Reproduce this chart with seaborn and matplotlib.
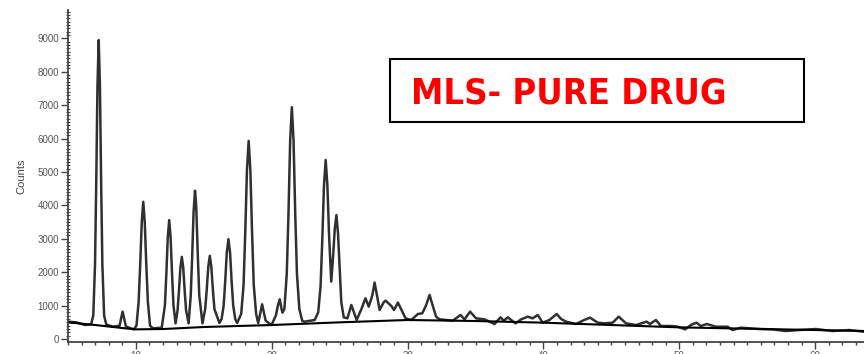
import matplotlib
matplotlib.use("Agg")
import matplotlib.pyplot as plt
from matplotlib.patches import Rectangle
from matplotlib.ticker import MultipleLocator
import seaborn as sns
import pandas as pd

# diffractogram (2-theta, counts)
two_theta = [5.0, 5.6, 6.25, 6.70, 6.86, 6.99, 7.08, 7.17, 7.26, 7.35, 7.44, 7.53, 7.66, 7.82,
             8.33, 8.80, 8.90, 9.02, 9.14, 9.26, 9.55, 9.85,
             10.04, 10.20, 10.315, 10.43, 10.54, 10.65, 10.765, 10.88, 11.04, 11.25,
             11.90, 12.135, 12.24, 12.345, 12.45, 12.555, 12.66, 12.765, 12.92,
             13.065, 13.17, 13.275, 13.38, 13.485, 13.59, 13.695, 13.88,
             14.035, 14.14, 14.245, 14.35, 14.42, 14.455, 14.56, 14.665, 14.90,
             15.10, 15.215, 15.33, 15.44, 15.55, 15.665, 15.78, 16.15,
             16.31, 16.46, 16.575, 16.69, 16.81, 16.93, 17.045, 17.16, 17.31, 17.45,
             17.75, 17.925, 18.05, 18.175, 18.30, 18.425, 18.55, 18.675, 18.85, 19.00,
             19.12, 19.29, 19.42, 19.55, 19.98, 20.30, 20.45, 20.59, 20.72, 20.79,
             20.93, 21.105, 21.23, 21.355, 21.48, 21.605, 21.73, 21.855, 22.03, 22.25,
             22.40, 23.16, 23.42, 23.595, 23.72, 23.845, 23.97, 24.095, 24.22, 24.38,
             24.52, 24.64, 24.76, 24.88, 25.00, 25.12, 25.30, 25.57, 25.86, 26.25,
             26.60, 26.90, 27.14, 27.40, 27.57, 27.75, 27.94, 28.24, 28.38, 28.80,
             29.00, 29.29, 29.85, 30.27, 30.76, 31.08, 31.35, 31.62, 31.85, 32.10,
             32.35, 33.33, 33.90, 34.19, 34.60, 35.04, 35.66, 36.40, 36.84, 37.08,
             37.38, 37.94, 38.36, 38.85, 39.20, 39.58, 39.95, 40.44, 40.98, 41.30,
             41.67, 42.40, 43.00, 43.43, 44.00, 44.49, 45.10, 45.54, 46.08, 46.82,
             47.60, 47.84, 48.28, 48.65, 49.50, 49.87, 50.44, 50.85, 51.27, 51.59,
             52.03, 52.69, 53.55, 53.92, 54.53, 55.88, 56.86, 57.84, 58.82, 60.05,
             61.27, 62.50, 63.60]
counts = [520, 500, 420, 440, 700, 2230, 4700, 7590, 8950, 7590, 4700, 2230, 700, 430,
          370, 400, 600, 820, 600, 380, 330, 290,
          400, 1110, 2215, 3500, 4110, 3500, 2215, 1110, 400, 320,
          340, 1010, 1945, 3040, 3560, 3040, 1945, 1010, 470,
          855, 1445, 2135, 2460, 2135, 1445, 855, 470,
          1300, 2450, 3800, 4440, 4100, 3800, 2450, 1300, 470,
          895, 1480, 2170, 2490, 2170, 1480, 895, 480,
          600, 1010, 1735, 2590, 2990, 2590, 1735, 1010, 600, 480,
          750, 1620, 3200, 5060, 5930, 5060, 3200, 1620, 750, 480,
          700, 1040, 800, 550, 420, 700, 1000, 1190, 900, 790,
          900, 1950, 3730, 5930, 6940, 5930, 3730, 1950, 900, 540,
          520, 570, 800, 1580, 2970, 4600, 5360, 4600, 3100, 1720,
          2500, 3300, 3710, 3150, 2100, 1100, 650, 620, 1020, 570,
          900, 1220, 970, 1300, 1690, 1300, 870, 1100, 1150, 990,
          870, 1090, 620, 570, 750, 770, 1000, 1320, 1000, 670,
          590, 550, 720, 590, 820, 620, 590, 450, 650, 550,
          650, 470, 590, 670, 620, 720, 490, 570, 750, 600,
          520, 450, 570, 640, 490, 470, 490, 670, 470, 420,
          520, 450, 570, 390, 390, 370, 290, 420, 490, 390,
          450, 370, 370, 270, 340, 300, 290, 240, 270, 300,
          240, 270, 220]

# fitted background line
bg_theta = [5, 7, 9, 10, 12, 15, 20, 25, 30, 35, 40, 45, 50, 55, 60, 63.6]
bg_counts = [500, 420, 330, 290, 300, 360, 420, 500, 570, 540, 490, 420, 350, 310, 270, 240]

y_ticks = [0, 1000, 2000, 3000, 4000, 5000, 6000, 7000, 8000, 9000]
x_ticks = [10, 20, 30, 40, 50, 60]

sns.set_style("ticks")
plt.rcParams["font.family"] = ["Liberation Sans", "DejaVu Sans"]

fig = plt.figure(figsize=(8.64, 3.54), dpi=100)
ax = fig.add_axes([0.0787, 0.0347, 0.9213, 0.9371])

pattern = pd.DataFrame({"theta": two_theta, "counts": counts})
background = pd.DataFrame({"theta": bg_theta, "counts": bg_counts})
sns.lineplot(data=pattern, x="theta", y="counts", ax=ax, color="#303030",
             lw=1.8, estimator=None)
sns.lineplot(data=background, x="theta", y="counts", ax=ax, color="black",
             lw=1.5, estimator=None)

ax.set_xlim(5, 63.6)
ax.set_ylim(-80, 9850)
ax.set_yticks(y_ticks)
ax.set_xticks(x_ticks)
ax.yaxis.set_minor_locator(MultipleLocator(100))
ax.xaxis.set_minor_locator(MultipleLocator(1))
ax.tick_params(axis="both", which="major", length=5, width=1, color="#444444",
               labelsize=7, labelcolor="#555555", pad=1.5)
ax.tick_params(axis="y", which="minor", length=3, width=0.8, direction="inout",
               color="#444444")
ax.tick_params(axis="x", which="minor", length=2.5, width=1, color="#444444")
ax.set_xlabel("")
ax.set_ylabel("Counts", fontsize=8, color="#444444", labelpad=8)
sns.despine(ax=ax)
for side in ["left", "bottom"]:
    ax.spines[side].set_color("#444444")
    ax.spines[side].set_linewidth(1.3)

fig.patches.append(Rectangle((0.4514, 0.6554), 0.4792, 0.1779,
                             transform=fig.transFigure, fill=False,
                             edgecolor="black", lw=1.5))
fig.text(0.4757, 0.7345, "MLS- PURE DRUG", color="#ff0000", fontsize=26,
         fontweight="bold", fontstretch="condensed", va="center", ha="left",
         family=["DejaVu Sans"])

fig.savefig("out.png", dpi=100)
